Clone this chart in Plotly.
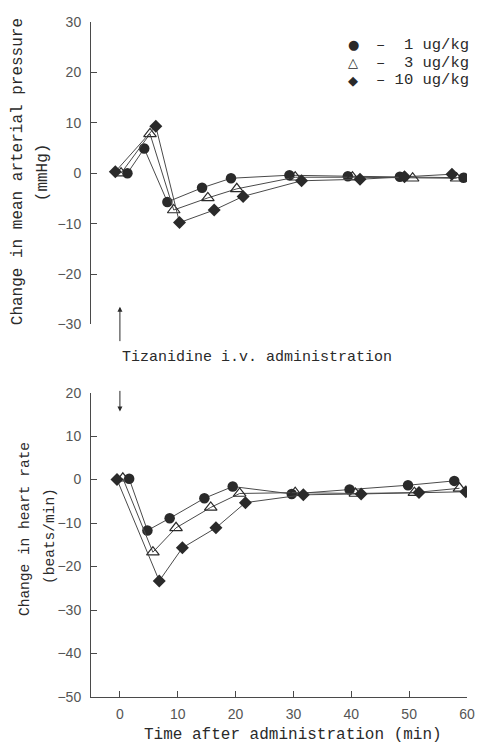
import plotly.graph_objects as go
from plotly.subplots import make_subplots

# ---- data ----
doses = ["1 ug/kg", "3 ug/kg", "10 ug/kg"]

t_map_1 = [1.3, 4.2, 8.2, 14.2, 19.2, 29.3, 39.4, 48.4, 59.4]
map_1 = [0.0, 4.9, -5.7, -2.9, -1.0, -0.4, -0.6, -0.7, -0.9]
t_map_3 = [0.2, 5.2, 9.3, 15.2, 20.2, 30.3, 40.2, 50.6, 58.2]
map_3 = [0.0, 7.8, -7.3, -4.9, -3.1, -0.8, -0.8, -1.0, -1.0]
t_map_10 = [-0.8, 6.2, 10.3, 16.3, 21.3, 31.4, 41.5, 49.2, 57.4]
map_10 = [0.3, 9.3, -9.8, -7.3, -4.6, -1.5, -1.2, -0.7, -0.2]

t_hr_1 = [1.6, 4.75, 8.6, 14.6, 19.5, 29.7, 39.7, 49.8, 57.8]
hr_1 = [0.2, -11.7, -8.9, -4.3, -1.6, -3.3, -2.3, -1.3, -0.3]
t_hr_3 = [0.5, 5.7, 9.7, 15.7, 20.7, 30.3, 40.7, 50.9, 58.7]
hr_3 = [0.3, -16.7, -11.1, -6.4, -3.2, -3.0, -3.2, -3.0, -2.0]
t_hr_10 = [-0.5, 6.8, 10.8, 16.6, 21.7, 31.7, 41.7, 51.7, 59.8]
hr_10 = [0.0, -23.3, -15.7, -11.1, -5.3, -3.5, -3.3, -3.0, -2.8]

x_ticks = [0, 10, 20, 30, 40, 50, 60]
map_ticks = [30, 20, 10, 0, -10, -20, -30]
hr_ticks = [20, 10, 0, -10, -20, -30, -40, -50]

# ---- layout geometry (page has an 8px body margin) ----
OFF = 8
W, H = 483 - OFF, 745 - OFF
ML, MR, MT, MB = 91 - OFF, 16, 14 - OFF, 48
PW, PH = W - ML - MR, H - MT - MB
PLOT_BOTTOM = 697  # page px
top_dom = [(PLOT_BOTTOM - 320) / PH, 1.0]
bot_dom = [0.0, (PLOT_BOTTOM - 389) / PH]

def px(x):
    # page x pixel -> paper fraction
    return (x - OFF - ML) / PW

def py(y):
    # page y pixel -> paper fraction
    return (PLOT_BOTTOM - y) / PH

INK = "#2a2a2a"
LINE = "#4a4a4a"
MONO = "Liberation Mono, Courier New, monospace"
SANS = "Liberation Sans, Arial, sans-serif"

fig = make_subplots(rows=2, cols=1, shared_xaxes=False, vertical_spacing=0.05)

styles = [
    dict(symbol="circle", size=10.5, color=INK, line=dict(width=0, color=INK)),
    dict(symbol="triangle-up-open", size=11, color=INK, line=dict(width=1.2, color=INK)),
    dict(symbol="diamond", size=10, color=INK, line=dict(width=0, color=INK)),
]

map_series = [(t_map_1, map_1), (t_map_3, map_3), (t_map_10, map_10)]
hr_series = [(t_hr_1, hr_1), (t_hr_3, hr_3), (t_hr_10, hr_10)]

for (tx, ty), st, name in zip(map_series, styles, doses):
    fig.add_trace(go.Scatter(x=tx, y=ty, mode="lines+markers", name=name,
                             line=dict(color=LINE, width=1), marker=st,
                             showlegend=False), row=1, col=1)
for (tx, ty), st, name in zip(hr_series, styles, doses):
    fig.add_trace(go.Scatter(x=tx, y=ty, mode="lines+markers", name=name,
                             line=dict(color=LINE, width=1), marker=st,
                             showlegend=False), row=2, col=1)

tickfont = dict(family=SANS, size=14, color="#555555")

fig.update_xaxes(range=[-5, 60], tickvals=x_ticks, showline=False, ticks="",
                 showticklabels=False, showgrid=False, zeroline=False,
                 domain=[0, 1], row=1, col=1)
fig.update_yaxes(range=[-30, 30], tickvals=map_ticks, showline=True, linecolor=LINE,
                 linewidth=1, ticks="inside", ticklen=6, tickcolor=LINE,
                 tickfont=tickfont, ticklabelstandoff=6, showgrid=False,
                 zeroline=False, domain=top_dom, row=1, col=1)
fig.update_xaxes(range=[-5, 60], tickvals=x_ticks, showline=True, linecolor=LINE,
                 linewidth=1, ticks="inside", ticklen=6, tickcolor=LINE,
                 tickfont=tickfont, ticklabelstandoff=4, showgrid=False,
                 zeroline=False, domain=[0, 1], row=2, col=1)
fig.update_yaxes(range=[-50, 20], tickvals=hr_ticks, showline=True, linecolor=LINE,
                 linewidth=1, ticks="inside", ticklen=6, tickcolor=LINE,
                 tickfont=tickfont, ticklabelstandoff=6, showgrid=False,
                 zeroline=False, domain=bot_dom, row=2, col=1)

def label(text, x, y, size, angle=0, xanchor="center"):
    return dict(text=text, x=px(x), y=py(y), xref="paper", yref="paper",
                xanchor=xanchor, yanchor="middle", textangle=angle,
                showarrow=False, borderpad=0,
                font=dict(family=MONO, size=size, color=INK))

ann = []
# y-axis titles
ann.append(label("Change in mean arterial pressure", 18, 166, 16, -90))
ann.append(label("(mmHg)", 43, 166, 16, -90))
ann.append(label("Change in heart rate", 25, 527, 14.5, -90))
ann.append(label("(beats/min)", 50, 534, 14.5, -90))
# x-axis title
ann.append(label("Time after administration (min)", 293, 735, 16))
# administration note and arrows
ann.append(dict(text="Tizanidine i.v. administration", x=0, y=py(353), xref="x2",
                yref="paper", xanchor="left", yanchor="middle", showarrow=False,
                font=dict(family=MONO, size=15, color=INK)))
ann.append(dict(text="", x=0, y=py(302), xref="x2", yref="paper", ax=0, ay=36,
                showarrow=True, arrowhead=2, arrowsize=1, arrowwidth=1, arrowcolor=INK))
ann.append(dict(text="", x=0, y=py(408), xref="x2", yref="paper", ax=0, ay=-22,
                showarrow=True, arrowhead=2, arrowsize=1, arrowwidth=1, arrowcolor=INK))

# legend built from text
legend_syms = ["\u25CF", "\u25B3", "\u25C6"]
legend_names = ["\u2013\u00a0\u00a01 ug/kg", "\u2013\u00a0\u00a03 ug/kg",
                "\u2013\u00a010 ug/kg"]
for i, (s, n) in enumerate(zip(legend_syms, legend_names)):
    yy = 37 + 18 * i
    ann.append(dict(text=s, x=px(353), y=py(yy), xref="paper", yref="paper",
                    xanchor="center", yanchor="middle", showarrow=False,
                    borderpad=0,
                    font=dict(family="DejaVu Sans", size=13, color=INK)))
    ann.append(label(n, 375, yy, 15.5, 0, xanchor="left"))

fig.update_layout(width=W, height=H, margin=dict(l=ML, r=MR, t=MT, b=MB),
                  paper_bgcolor="white", plot_bgcolor="white",
                  showlegend=False, annotations=ann)

fig.write_html("out.html")
